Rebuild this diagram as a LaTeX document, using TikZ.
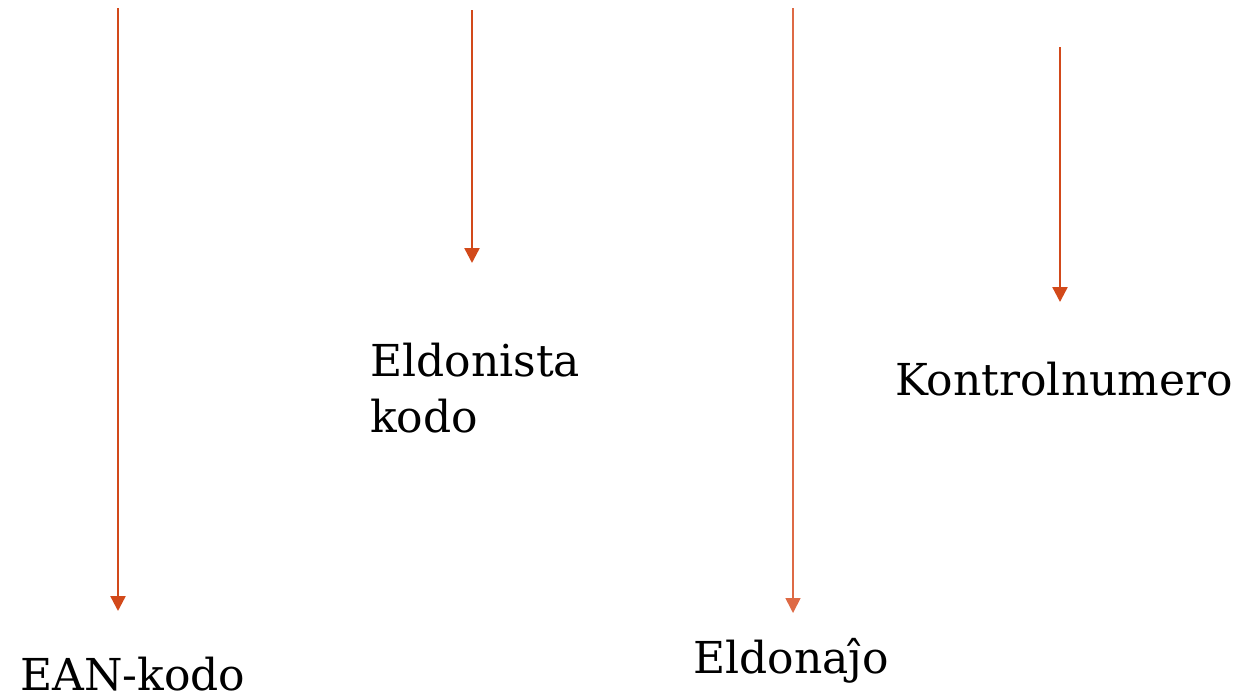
\documentclass[tikz,border=0pt]{standalone}
\usepackage{fontspec}
\setmainfont{DejaVu Serif}
\usetikzlibrary{arrows.meta}
\definecolor{arr}{HTML}{D2491A}
\definecolor{arrlight}{HTML}{DE6A45}
\tikzset{
  pointer/.style={draw=arr, line width=2.4pt, -{Triangle[width=15pt,length=15pt]}},
  label/.style={anchor=base west, inner sep=0pt, font=\fontsize{44}{56}\selectfont, align=left},
}
\begin{document}
\begin{tikzpicture}[x=1pt,y=-1pt]
\useasboundingbox (0,0) rectangle (1238,694);
% arrows
\coordinate (a1s) at (118,8);   \coordinate (a1e) at (118,611);
\coordinate (a2s) at (472,10);  \coordinate (a2e) at (472,263);
\coordinate (a3s) at (793,8);   \coordinate (a3e) at (793,613);
\coordinate (a4s) at (1060,47); \coordinate (a4e) at (1060,302);
\draw[pointer] (a1s) -- (a1e);
\draw[pointer] (a2s) -- (a2e);
\draw[pointer, draw=arrlight, line width=1.7pt] (a3s) -- (a3e);
\draw[pointer] (a4s) -- (a4e);
% labels
\node[label] (ean) at (20,690) {EAN-kodo};
\node[label] (eld) at (370,432) {Eldonista\\kodo};
\node[label] (kon) at (895,395) {Kontrolnumero};
\node[label] (edj) at (693,673) {Eldonaĵo};
\end{tikzpicture}
\end{document}
